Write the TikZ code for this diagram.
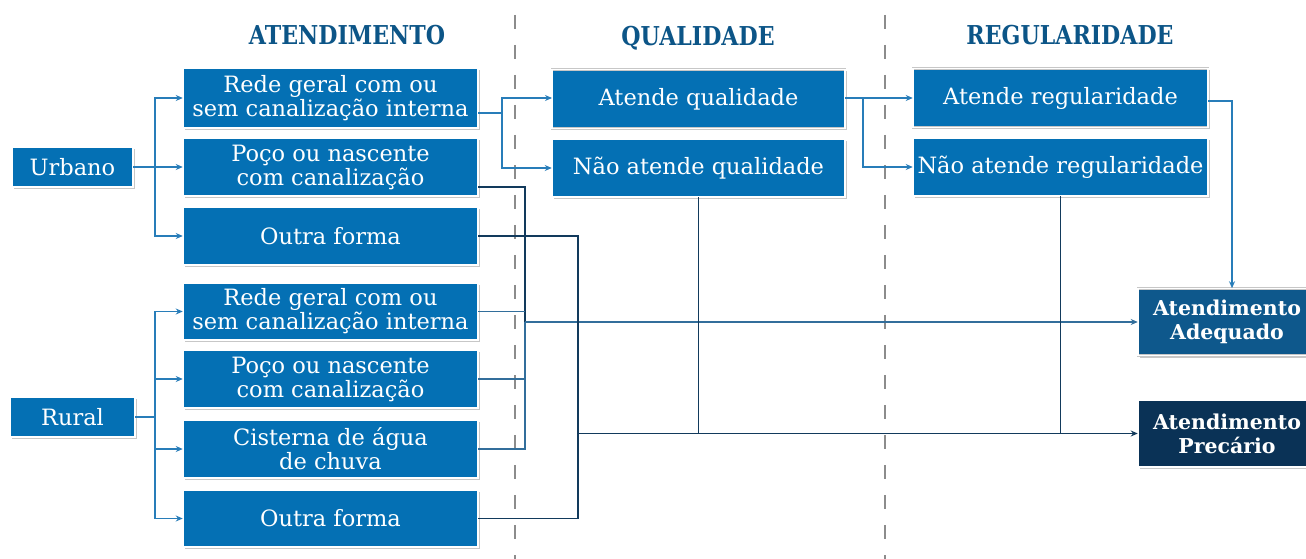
\documentclass[tikz,border=0pt]{standalone}
\usepackage{fontspec}
\setmainfont{DejaVu Serif}
\newfontfamily\hdrfont[FakeStretch=0.85]{DejaVu Serif}
\usetikzlibrary{shadows,arrows.meta,calc}
\definecolor{boxblue}{RGB}{4,112,180}
\definecolor{adblue}{RGB}{14,88,140}
\definecolor{prblue}{RGB}{10,50,86}
\definecolor{ltline}{RGB}{40,125,185}
\definecolor{mdline}{RGB}{50,110,155}
\definecolor{dkline}{RGB}{18,58,92}
\definecolor{hdrcol}{RGB}{12,85,135}
\begin{document}
\begin{tikzpicture}[x=1pt,y=-1pt,
  box/.style={fill=boxblue, draw=black!22, double=white, double distance=1.6pt, line width=0.5pt, text=white,
    align=center, inner sep=0pt, font=\fontsize{22.5}{24}\selectfont,
    drop shadow={shadow xshift=1.5pt, shadow yshift=-2pt, fill=black, opacity=0.22}},
  wbox/.style={box, minimum width=295pt},
  fbox/.style={box, minimum width=178pt, minimum height=67pt, font=\bfseries\fontsize{20.5}{24}\selectfont},
  hdr/.style={text=hdrcol, font=\hdrfont\bfseries\fontsize{26}{28}\selectfont, inner sep=0pt},
  lt/.style={draw=ltline, line width=1.9pt},
  md/.style={draw=mdline, line width=1.9pt},
  dk/.style={draw=dkline, line width=1.9pt},
  tip/.style={-{Stealth[length=7pt,width=6pt]}},
  dashln/.style={draw=black!45, line width=1.4pt, dash pattern=on 14pt off 16pt}
]
\useasboundingbox (0,0) rectangle (1306,559);

% dashed separators
\coordinate (d1t) at (515,15); \coordinate (d1b) at (515,559);
\coordinate (d2t) at (885,15); \coordinate (d2b) at (885,559);
\draw[dashln] (d1t) -- (d1b);
\draw[dashln] (d2t) -- (d2b);

% headers
\node[hdr] (h1) at (347,35) {ATENDIMENTO};
\node[hdr] (h2) at (698,38) {QUALIDADE};
\node[hdr] (h3) at (1070,35) {REGULARIDADE};

% left nodes
\node[box, minimum width=121pt, minimum height=40pt] (urb) at (72.5,167) {Urbano};
\node[box, minimum width=125pt, minimum height=40pt] (rur) at (72.5,417) {Rural};

\node[wbox, minimum height=60pt] (u1) at (330.5,98) {Rede geral com ou\\sem canalização interna};
\node[wbox, minimum height=58pt] (u2) at (330.5,167) {Poço ou nascente\\com canalização};
\node[wbox, minimum height=58pt] (u3) at (330.5,236) {Outra forma};
\node[wbox, minimum height=57pt] (r1) at (330.5,311.5) {Rede geral com ou\\sem canalização interna};
\node[wbox, minimum height=58pt] (r2) at (330.5,379) {Poço ou nascente\\com canalização};
\node[wbox, minimum height=58pt] (r3) at (330.5,449) {Cisterna de água\\de chuva};
\node[wbox, minimum height=57pt] (r4) at (330.5,518.5) {Outra forma};

% quality
\node[box, minimum width=293pt, minimum height=59pt] (aq) at (698.5,99) {Atende qualidade};
\node[box, minimum width=293pt, minimum height=58pt] (naq) at (698.5,168) {Não atende qualidade};

% regularity
\node[wbox, minimum height=59pt] (ar) at (1060.5,98) {Atende regularidade};
\node[wbox, minimum height=58pt] (nar) at (1060.5,167) {Não atende regularidade};

% final
\node[fbox, fill=adblue] (ad) at (1227,322) {Atendimento\\Adequado};
\node[fbox, fill=prblue] (pr) at (1227,433.5) {Atendimento\\Precário};

% urban / rural branching
\coordinate (ubus) at (155,167);
\draw[lt] (urb.east) -- (ubus);
\draw[lt,tip] (ubus) |- (u1.west);
\draw[lt,tip] (ubus) -- (u2.west);
\draw[lt,tip] (ubus) |- (u3.west);

\coordinate (rbus) at (155,417);
\draw[lt] (rur.east) -- (rbus);
\draw[lt,tip] (rbus) |- (r1.west);
\draw[lt,tip] (rbus) |- (r2.west);
\draw[lt,tip] (rbus) |- (r3.west);
\draw[lt,tip] (rbus) |- (r4.west);

% to quality
\coordinate (qbus) at (502,113);
\draw[lt] (u1.east |- qbus) -- (qbus);
\coordinate (qa) at (552,98);
\draw[lt,tip] (qbus) |- (qa);
\draw[lt,tip] (qbus) |- (naq.west);

% to regularity
\coordinate (gbus) at (863,98);
\draw[lt] (aq.east |- gbus) -- (gbus);
\draw[lt,tip] (gbus) -- (ar.west);
\draw[lt,tip] (gbus) |- (nar.west);

% regularity to adequado
\coordinate (adc) at (1232,101);
\draw[lt,tip] (ar.east |- adc) -| (ad.north -| adc);

% adequado bus
\coordinate (ba) at (525,322);
\coordinate (u2o) at ($(u2.east)+(0,20)$);
\draw[dk] (u2o) -| (ba);
\draw[md] (ba) |- (r3.east);
\draw[md] (r1.east) -- (r1.east -| ba);
\draw[md] (r2.east) -- (r2.east -| ba);
\draw[md,tip] (ba) -- (ad.west);

% precario bus
\coordinate (bb) at (578,433.5);
\draw[dk] (u3.east) -| (bb);
\draw[dk] (r4.east) -| (bb);
\draw[dk] (naq.south) -- (naq.south |- bb);
\draw[dk] (nar.south) -- (nar.south |- bb);
\draw[dk,tip] (bb) -- (pr.west);
\end{tikzpicture}
\end{document}
